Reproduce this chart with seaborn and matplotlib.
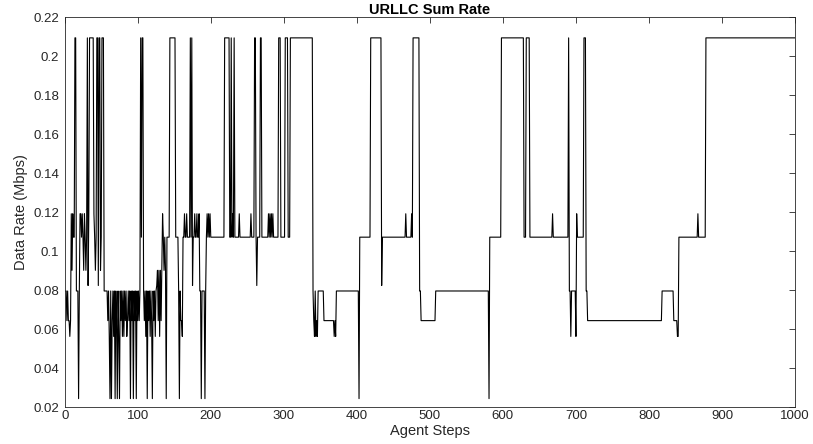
import numpy as np
import pandas as pd
import matplotlib
matplotlib.use("Agg")
import matplotlib.pyplot as plt
import seaborn as sns
from matplotlib.ticker import FuncFormatter

# Rate levels (Mbps)
levels = {
    "T": 0.2093, "B": 0.1191, "C": 0.1071, "D": 0.0901, "E": 0.0823,
    "F": 0.0795, "G": 0.0643, "H": 0.0562, "L": 0.0243,
}

# Step at which each new level starts, and the level code (holds until next change)
change_steps = [
    1, 3, 4, 5, 7, 8, 9, 10, 11, 12, 14, 16, 19, 20, 21, 23, 24, 25, 26, 27, 28, 29, 30,
    31, 32, 33, 34, 40, 41, 42, 43, 44, 46, 47, 49, 50, 51, 54,
    59, 60, 61, 62, 63, 64, 65, 66, 67, 68, 69, 70, 71, 72, 73, 74, 75, 76, 77, 78, 79,
    80, 81, 82, 83, 84, 85, 86, 87, 88, 89, 90, 91, 92, 93, 94, 95, 96, 97, 98, 99,
    100, 101, 102, 103, 104, 105, 106, 108, 109, 110, 111, 112, 113, 114, 115, 116, 117,
    118, 119, 120, 121, 122, 123, 124, 125, 126, 127, 128, 129, 130, 131, 132, 133, 134,
    135, 136, 137, 138, 139, 140, 144, 152, 156, 157, 158, 159, 161, 162, 164, 165, 167,
    168, 172, 173, 174, 175, 176, 178, 179, 181, 182, 184, 185, 187, 188, 192, 193, 194,
    195, 196, 197, 198, 199, 200, 219, 226, 228, 229, 230, 231, 232, 233, 239, 240, 255,
    256, 260, 262, 263, 264, 268, 270, 279, 280, 281, 282, 283, 284, 285, 286, 293, 296,
    302, 306, 309, 340, 341, 342, 343, 344, 345, 346, 347, 355, 369, 370, 371, 372, 403,
    404, 419, 434, 435, 467, 468, 475, 476, 477, 486, 488, 508, 581, 582, 598, 629, 632,
    637, 668, 669, 690, 691, 693, 694, 700, 701, 702, 711, 714, 716, 818, 834, 839, 841,
    867, 868, 878,
]
change_codes = (
    "FGFGHGBDBCTFLFBCBCDBCDC"
    "TEBTBCDCTETDCTF"
    "GFHLFLGFHFLFGLFHLFGFH"
    "FHFGFHGFGFLFGFLFGFLF"
    "GFGFTCTFGFHFLFGFH"
    "FGLFGFHFEDGDHDGDB"
    "CDCDLCTCFLFGHCBCB"
    "CTCTECBCBCBFLFLFC"
    "BCBCBCTCTCBCTCBCB"
    "CTCECTCBCBCBCBCTC"
    "TCTFGHFHGHFGHGHFL"
    "CTECBCBCTFGFLCTCT"
    "CBCTFHFHBCTFGFGHC"
    "BCT"
)
last_step = 1000

starts = np.array(change_steps)
lengths = np.diff(np.append(starts, last_step + 1))
codes = list(change_codes)
values = np.repeat([levels[c] for c in codes], lengths)
steps = np.arange(1, last_step + 1)

df = pd.DataFrame({"Agent Steps": steps, "Data Rate (Mbps)": values})

x_ticks = list(range(0, 1001, 100))
y_ticks = [0.02, 0.04, 0.06, 0.08, 0.1, 0.12, 0.14, 0.16, 0.18, 0.2, 0.22]

sns.set_style("white")
plt.rcParams["font.family"] = ["Liberation Sans", "DejaVu Sans"]

fig = plt.figure(figsize=(8.13, 4.44), dpi=100)
ax = fig.add_axes([0.0796, 0.0833, 0.8983, 0.8784])
sns.lineplot(data=df, x="Agent Steps", y="Data Rate (Mbps)", color="black",
             linewidth=0.8, estimator=None, ax=ax)

ax.set_xlim(0, 1000)
ax.set_ylim(0.02, 0.22)
ax.set_xticks(x_ticks)
ax.set_yticks(y_ticks)
ax.yaxis.set_major_formatter(FuncFormatter(lambda v, p: f"{v:g}"))

axc = "#262626"
ax.tick_params(direction="in", top=True, right=True, length=4.5, width=0.6,
               colors=axc, labelsize=9.5)
ax.tick_params(axis="x", pad=2.5)
ax.tick_params(axis="y", pad=4)
for s in ax.spines.values():
    s.set_color(axc)
    s.set_linewidth(0.6)
ax.set_xlabel("Agent Steps", fontsize=10.5, color=axc, labelpad=1)
ax.set_ylabel("Data Rate (Mbps)", fontsize=10.5, color=axc, labelpad=4)
ax.set_title("URLLC Sum Rate", fontsize=10.5, fontweight="bold", color="black", pad=2)

fig.savefig("out.png", dpi=100)
